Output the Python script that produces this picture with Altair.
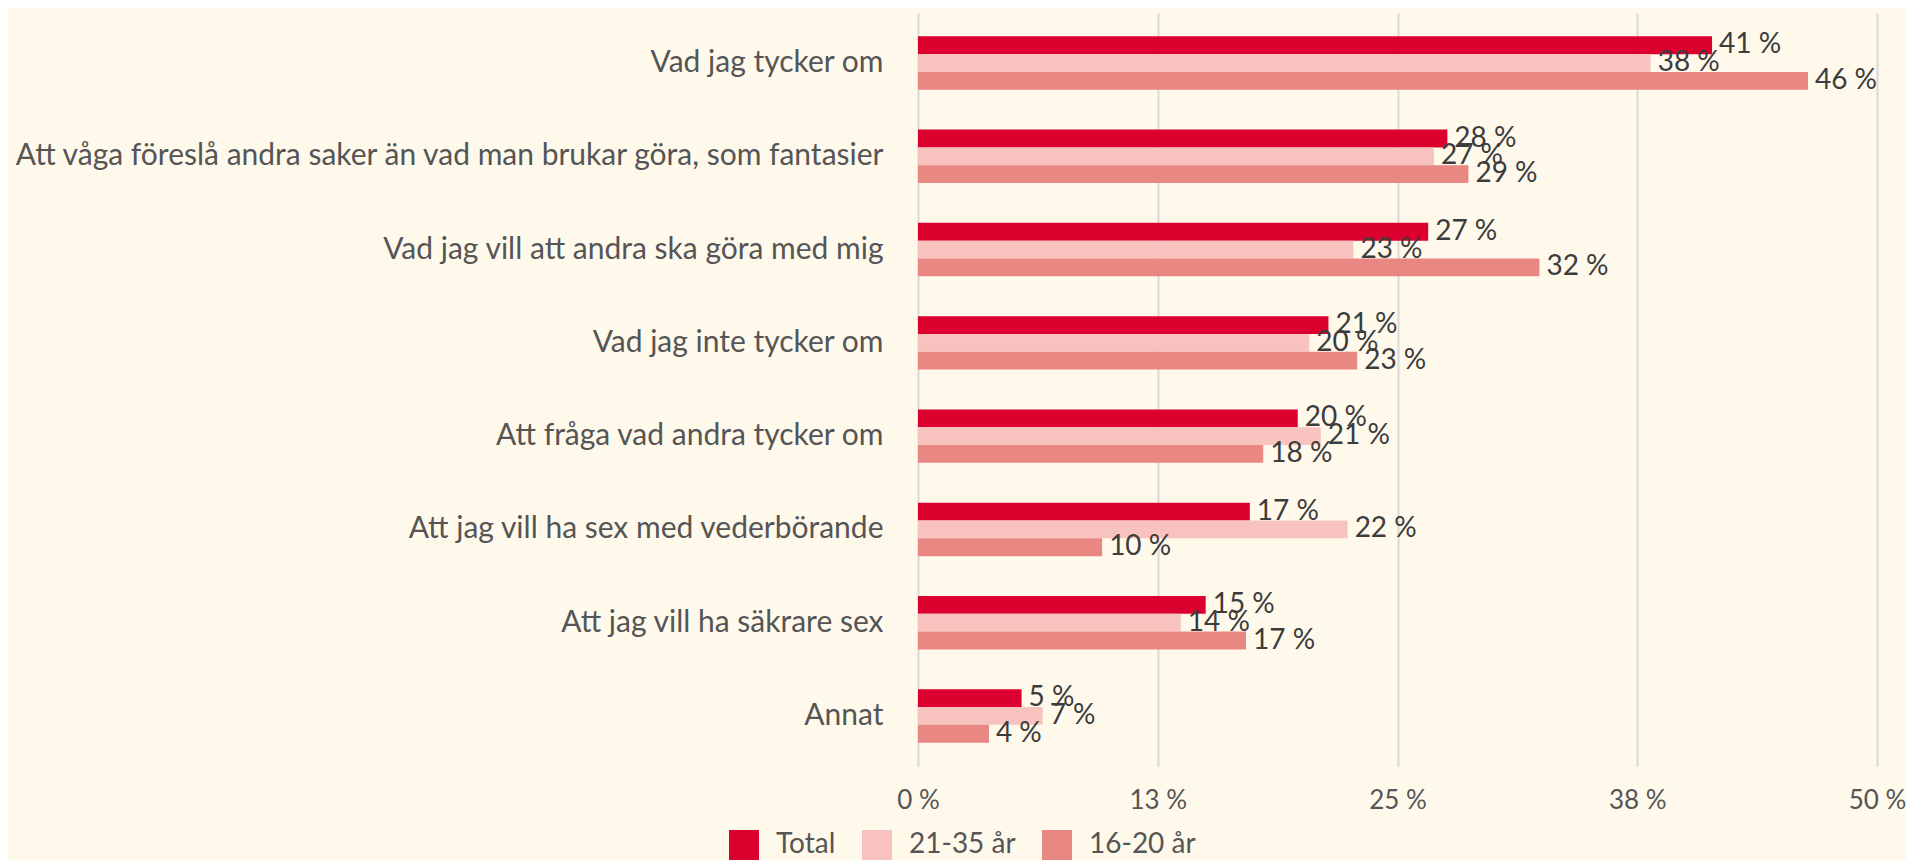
import altair as alt
import pandas as pd

categories = [
    "Vad jag tycker om",
    "Att våga föreslå andra saker än vad man brukar göra, som fantasier",
    "Vad jag vill att andra ska göra med mig",
    "Vad jag inte tycker om",
    "Att fråga vad andra tycker om",
    "Att jag vill ha sex med vederbörande",
    "Att jag vill ha säkrare sex",
    "Annat",
]
series = ["Total", "21-35 år", "16-20 år"]
total = [41.4, 27.6, 26.6, 21.4, 19.8, 17.3, 15.0, 5.4]
age_21_35 = [38.2, 26.9, 22.7, 20.4, 21.0, 22.4, 13.7, 6.5]
age_16_20 = [46.4, 28.7, 32.4, 22.9, 18.0, 9.6, 17.1, 3.7]
tick_values = [0, 12.5, 25, 37.5, 50]
colors = ["#DC002E", "#F8C3BF", "#E98782"]

rows = []
for name, vals in zip(series, [total, age_21_35, age_16_20]):
    for c, v in zip(categories, vals):
        rows.append({"category": c, "series": name, "value": v})
df = pd.DataFrame(rows)

FONT = "Lato"

base = alt.Chart(df).transform_calculate(
    label="format(datum.value, '.0f') + ' %'"
).encode(
    y=alt.Y(
        "category:N",
        sort=categories,
        title=None,
        scale=alt.Scale(paddingInner=0.427, paddingOuter=0.25),
        axis=alt.Axis(
            labelFontSize=30,
            labelFont=FONT,
            labelColor="#555555",
            labelPadding=35,
            labelLimit=2000,
            ticks=False,
            domain=False,
        ),
    ),
    yOffset=alt.YOffset(
        "series:N", sort=series, scale=alt.Scale(paddingInner=0, paddingOuter=0)
    ),
    x=alt.X(
        "value:Q",
        title=None,
        scale=alt.Scale(domain=[0, 50], nice=False),
        axis=alt.Axis(
            values=tick_values,
            labelExpr="format(datum.value, '.0f') + ' %'",
            labelFontSize=26,
            labelFont=FONT,
            labelColor="#555555",
            labelPadding=21,
            labelFlush=False,
            grid=True,
            gridColor="#D9D9D9",
            gridWidth=2,
            ticks=False,
            domain=False,
        ),
    ),
)

bars = base.mark_bar().encode(
    color=alt.Color(
        "series:N",
        sort=series,
        scale=alt.Scale(domain=series, range=colors),
        legend=alt.Legend(
            title=None,
            orient="none",
            direction="horizontal",
            legendX=-189,
            legendY=817,
            symbolType="square",
            symbolSize=900,
            symbolStrokeWidth=0,
            labelFontSize=28,
            labelFont=FONT,
            labelColor="#555555",
            labelOffset=17,
            columnPadding=26,
            padding=0,
        ),
    )
)

text = base.mark_text(
    align="left", baseline="middle", dx=7, fontSize=28, font=FONT, color="#3C3C3C"
).encode(text="label:N")

chart = alt.layer(bars, text).properties(
    width=959,
    height=753,
    autosize=alt.AutoSizeParams(type="none"),
    padding={"left": 910, "top": 5, "right": 29, "bottom": 94},
    background="#FFF9EC",
).configure_view(stroke=None)

chart.save("out.html", embed_options={"renderer": "svg", "actions": False})
